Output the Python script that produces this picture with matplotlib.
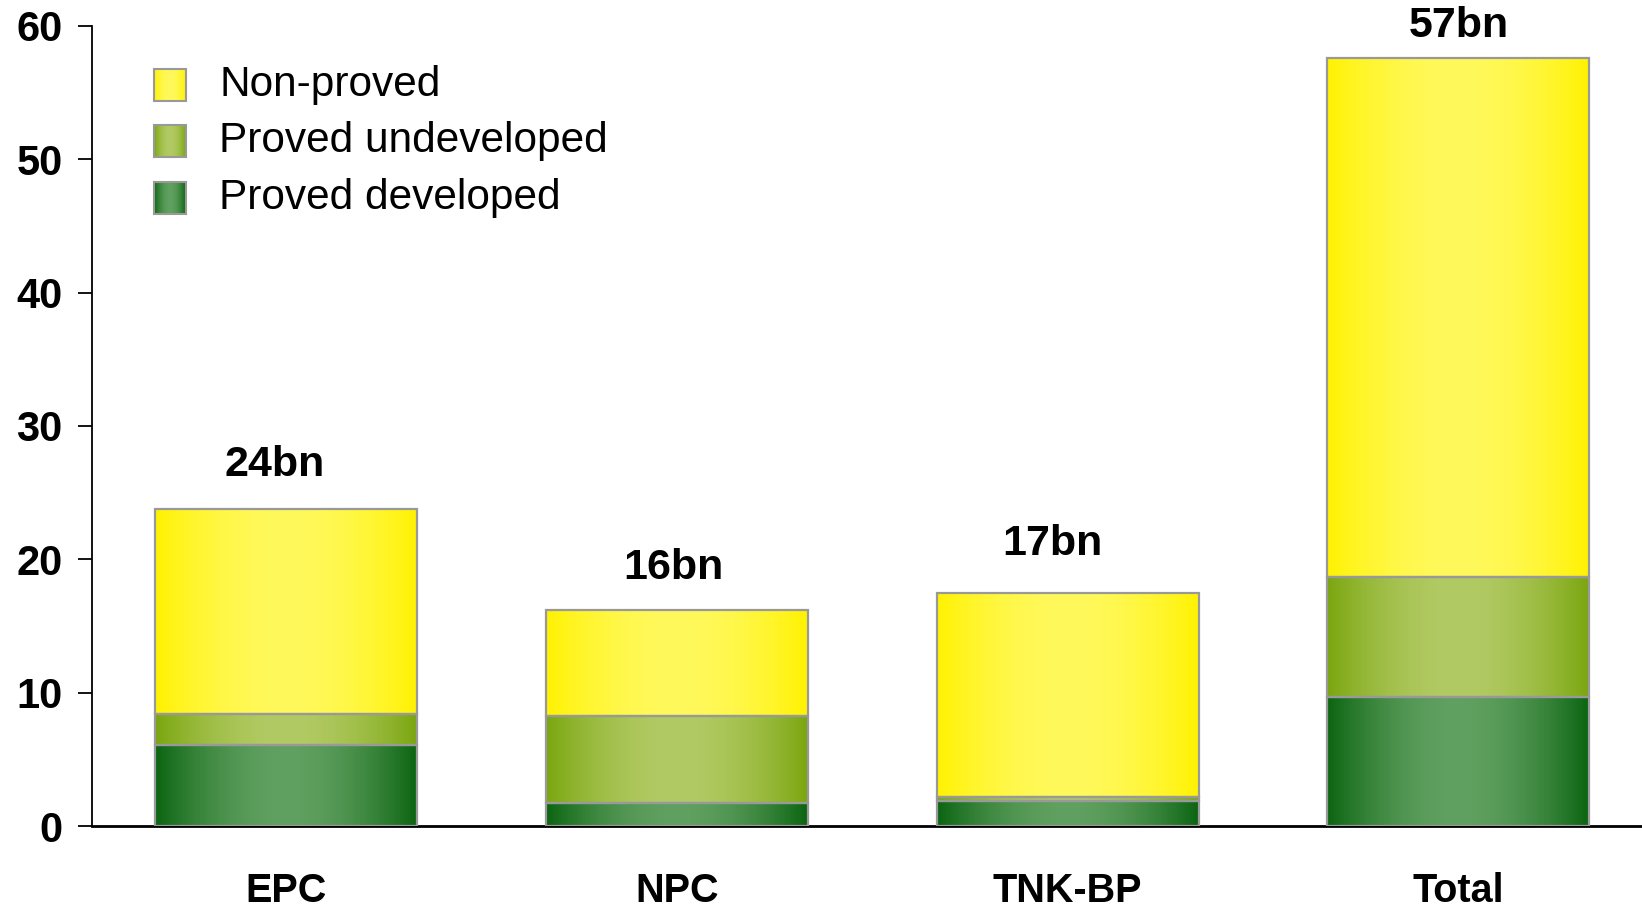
import numpy as np
import matplotlib
matplotlib.use("Agg")
import matplotlib.pyplot as plt
from matplotlib.patches import Rectangle

categories = ["EPC", "NPC", "TNK-BP", "Total"]
proved_developed = [6.1, 1.7, 1.9, 9.7]
proved_undeveloped = [2.3, 6.55, 0.3, 9.0]
non_proved = [15.4, 7.95, 15.3, 38.9]
total_labels = ["24bn", "16bn", "17bn", "57bn"]
label_y = [27.1, 19.35, 21.15, 60.0]
label_dx = [-0.03, -0.01, -0.04, 0.0]
series_names = ["Proved developed", "Proved undeveloped", "Non-proved"]

# gradient colours: (edge, centre)
grad_cols = {
    "Proved developed": ((10, 100, 16), (96, 160, 96)),
    "Proved undeveloped": ((122, 166, 14), (178, 202, 100)),
    "Non-proved": ((255, 242, 0), (255, 249, 92)),
}

plt.rcParams['font.family'] = ['Liberation Sans', 'DejaVu Sans']

def gradient(name, n=256):
    e, c = grad_cols[name]
    e = np.array(e) / 255.0
    c = np.array(c) / 255.0
    t = np.linspace(0, 1, n)
    w = np.sin(np.pi * t) ** 0.9
    img = e[None, :] + (c - e)[None, :] * w[:, None]
    return img[None, :, :]

fig = plt.figure(figsize=(16.42, 9.08), dpi=100)
ax = fig.add_axes([0.056, 0.0903, 0.944, 0.8811])

x = np.arange(len(categories))
width = 0.67
bottom = np.zeros(len(categories))
for name, vals in zip(series_names, [proved_developed, proved_undeveloped, non_proved]):
    bars = ax.bar(x, vals, width, bottom=bottom, facecolor='none',
                  edgecolor='#999999', linewidth=1.6, zorder=3)
    for p in bars:
        x0, y0 = p.get_x(), p.get_y()
        im = ax.imshow(gradient(name), extent=(x0, x0 + p.get_width(), y0, y0 + p.get_height()),
                       aspect='auto', zorder=2, interpolation='bilinear')
        im.set_clip_path(p)
    bottom += np.array(vals)

for i, (lab, ly, dx) in enumerate(zip(total_labels, label_y, label_dx)):
    ax.text(x[i] + dx, ly, lab, ha='center', va='center', fontsize=31,
            fontweight='bold', clip_on=False)

ax.set_xlim(-0.497, 3.47)
ax.set_ylim(0, 60)
ax.set_yticks(np.arange(0, 61, 10))
ax.set_xticks(x)
ax.set_xticklabels(categories)
for s in ['top', 'right']:
    ax.spines[s].set_visible(False)
ax.spines['left'].set_linewidth(1.3)
ax.spines['bottom'].set_linewidth(2.0)
ax.tick_params(axis='y', length=10, width=1.3, pad=11, labelsize=30)
ax.tick_params(axis='x', length=0, pad=33, labelsize=28.5)
for t in ax.get_yticklabels() + ax.get_xticklabels():
    t.set_fontweight('bold')

# legend (manual, with gradient swatches)
leg_items = ["Non-proved", "Proved undeveloped", "Proved developed"]
row_y = [0.926, 0.856, 0.785]
sw, sh = 0.0206, 0.04
for name, ry in zip(leg_items, row_y):
    x0 = 0.04
    ax.imshow(gradient(name), extent=(x0, x0 + sw, ry - sh / 2, ry + sh / 2),
              transform=ax.transAxes, aspect='auto', zorder=4)
    ax.add_patch(Rectangle((x0, ry - sh / 2), sw, sh, transform=ax.transAxes,
                           facecolor='none', edgecolor='#999999', linewidth=1.5, zorder=5))
    ax.text(0.082, ry, name, transform=ax.transAxes, ha='left', va='center', fontsize=30.5)

ax.set_xlim(-0.497, 3.47)
ax.set_ylim(0, 60)
fig.savefig("out.png", dpi=100)
